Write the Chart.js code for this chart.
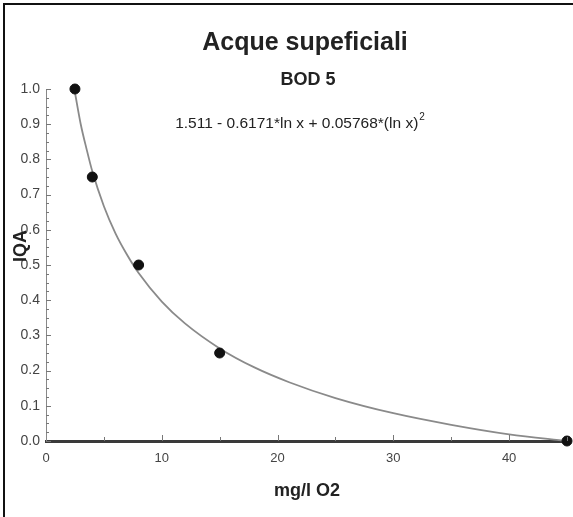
<!DOCTYPE html>
<html>
<head>
<meta charset="utf-8">
<script src="https://cdn.jsdelivr.net/npm/chart.js@4/dist/chart.umd.min.js"></script>
<style>
html,body{margin:0;padding:0;background:#fff;}
#wrap{position:relative;width:573px;height:517px;}
</style>
</head>
<body>
<div id="wrap"><canvas id="c" width="573" height="517"></canvas></div>
<script>
// Measured points (mg/l O2 -> IQA)
const pointX = [2.5, 4, 8, 15, 45];
const pointY = [1.0, 0.75, 0.5, 0.25, 0.0];
// Fitted curve
const curveX = [2.5, 3, 3.5, 4, 5, 6, 7, 8, 10, 12, 15, 18, 21, 25, 30, 35, 40, 45];
const curveY = [0.99, 0.90, 0.83, 0.766, 0.667, 0.59, 0.529, 0.477, 0.396, 0.334, 0.263, 0.209, 0.167, 0.122, 0.079, 0.046, 0.019, 0.0];
const xTicks = [0, 10, 20, 30, 40];
const yTicks = [0.0, 0.1, 0.2, 0.3, 0.4, 0.5, 0.6, 0.7, 0.8, 0.9, 1.0];
const titleText = 'Acque supeficiali';
const subtitleText = 'BOD 5';
const equationText = '1.511 - 0.6171*ln x + 0.05768*(ln x)';
const equationSup = '2';
const xTitle = 'mg/l O2';
const yTitle = 'IQA';

const FONT = '"Liberation Sans", Arial, sans-serif';

const decor = {
  id: 'decor',
  beforeDraw(chart) {
    const ctx = chart.ctx;
    ctx.save();
    ctx.fillStyle = '#fff';
    ctx.fillRect(0, 0, chart.width, chart.height);
    ctx.fillStyle = '#111';
    ctx.fillRect(3, 3, chart.width - 3, 2);
    ctx.fillRect(3, 3, 2, chart.height - 3);
    ctx.restore();
  },
  afterDraw(chart) {
    const ctx = chart.ctx;
    const xs = chart.scales.x, ys = chart.scales.y;
    ctx.save();
    // tick marks (inward)
    ctx.strokeStyle = '#777';
    ctx.lineWidth = 1;
    const x0 = xs.left, y0 = ys.bottom;
    for (let v = 0; v <= 1.0001; v += 0.025) {
      const major = Math.abs(v * 10 - Math.round(v * 10)) < 1e-6;
      const py = Math.round(ys.getPixelForValue(v)) + 0.5;
      ctx.beginPath();
      ctx.moveTo(x0, py);
      ctx.lineTo(x0 + (major ? 5 : 3), py);
      ctx.stroke();
    }
    for (let v = 5; v <= 45; v += 5) {
      const major = v % 10 === 0;
      const px = Math.round(xs.getPixelForValue(v)) + 0.5;
      ctx.beginPath();
      ctx.moveTo(px, y0);
      ctx.lineTo(px, y0 - (major ? 6 : 4));
      ctx.stroke();
    }
    // texts
    ctx.fillStyle = '#222';
    ctx.textAlign = 'center';
    ctx.textBaseline = 'middle';
    ctx.font = 'bold 25px ' + FONT;
    ctx.fillText(titleText, 305, 43);
    ctx.font = 'bold 18px ' + FONT;
    ctx.fillText(subtitleText, 308, 80);
    ctx.font = '15.5px ' + FONT;
    const w = ctx.measureText(equationText).width;
    ctx.font = '10px ' + FONT;
    const ws = ctx.measureText(equationSup).width;
    const startX = 300 - (w + ws + 1) / 2;
    ctx.textAlign = 'left';
    ctx.font = '15.5px ' + FONT;
    ctx.fillText(equationText, startX, 124);
    ctx.font = '10px ' + FONT;
    ctx.fillText(equationSup, startX + w + 1, 117);
    ctx.textAlign = 'center';
    ctx.font = 'bold 18px ' + FONT;
    ctx.fillText(xTitle, 307, 491);
    ctx.translate(21, 246);
    ctx.rotate(-Math.PI / 2);
    ctx.font = 'bold 18px ' + FONT;
    ctx.fillText(yTitle, 0, 0);
    ctx.restore();
  }
};

new Chart(document.getElementById('c'), {
  type: 'scatter',
  data: {
    datasets: [
      {
        label: 'punti',
        data: pointX.map((x, i) => ({x: x, y: pointY[i]})),
        backgroundColor: '#111',
        borderColor: '#111',
        pointRadius: 5,
        pointHoverRadius: 5,
        clip: false
      },
      {
        label: 'curva',
        data: curveX.map((x, i) => ({x: x, y: curveY[i]})),
        showLine: true,
        pointRadius: 0,
        borderColor: '#8a8a8a',
        borderWidth: 1.8,
        cubicInterpolationMode: 'monotone',
        fill: false,
        clip: false
      }
    ]
  },
  options: {
    responsive: false,
    animation: false,
    events: [],
    layout: {padding: {top: 89, right: 6, left: 0, bottom: 0}},
    plugins: {legend: {display: false}, tooltip: {enabled: false}, title: {display: false}},
    scales: {
      x: {
        type: 'linear',
        min: 0, max: 45,
        afterFit(s) { s.height = 76; },
        afterBuildTicks(s) { s.ticks = xTicks.map(v => ({value: v})); },
        grid: {display: false, drawTicks: false},
        border: {display: true, color: '#3a3a3a', width: 3},
        ticks: {color: '#444', font: {family: FONT, size: 13}, padding: 10, maxRotation: 0}
      },
      y: {
        type: 'linear',
        min: 0, max: 1,
        afterFit(s) { s.width = 46; },
        afterBuildTicks(s) { s.ticks = yTicks.map(v => ({value: v})); },
        grid: {display: false, drawTicks: false},
        border: {display: true, color: '#888', width: 1},
        ticks: {color: '#444', font: {family: FONT, size: 14}, padding: 6,
          callback: v => Number(v).toFixed(1)}
      }
    }
  },
  plugins: [decor]
});
</script>
</body>
</html>
